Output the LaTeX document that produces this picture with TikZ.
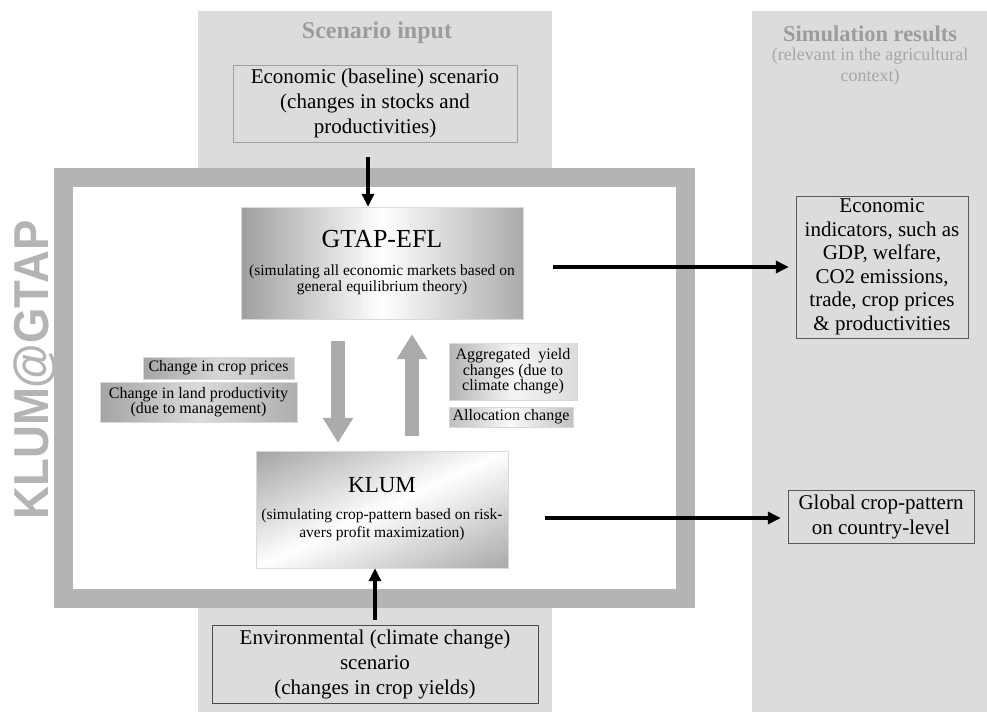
\documentclass[tikz,border=0pt]{standalone}
\usepackage{fontspec}
\setmainfont{Liberation Serif}
\newfontfamily\brandfont[FakeStretch=0.93]{Liberation Sans}
\usetikzlibrary{arrows.meta,calc}
\definecolor{colgray}{HTML}{DCDCDC}
\definecolor{framegray}{HTML}{B4B4B4}
\definecolor{titlegray}{HTML}{9C9C9C}
\definecolor{arrowgray}{HTML}{ABABAB}
\newcommand{\fsz}[2]{\fontsize{#1}{#2}\selectfont}
\pgfdeclarelayer{bg}
\pgfdeclarelayer{grad}
\pgfsetlayers{bg,grad,main}
% #1 node, #2 #3 #4 darkness left/middle/right, #5 #6 weight along x/y, #7 rows
\newcommand{\shadebox}[7]{%
  \begin{pgfonlayer}{grad}
  \foreach \i in {0,...,59}{
    \foreach \j in {1,...,#7}{
      \pgfmathsetmacro\t{#5*(\i+0.5)/60+#6*(\j-0.5)/#7}
      \pgfmathsetmacro\g{\t<0.5 ? #2+(#3-#2)*2*\t : #3+(#4-#3)*(2*\t-1)}
      \fill[black!\g] let \p1=(#1.north west), \p2=(#1.south east) in
        ({\x1+(\x2-\x1)/60*\i}, {\y1+(\y2-\y1)/#7*(\j-1)}) rectangle
        ({\x1+(\x2-\x1)/60*(\i+1)+0.4pt}, {\y1+(\y2-\y1)/#7*\j-0.4pt});
    }}
  \end{pgfonlayer}}

\begin{document}
\begin{tikzpicture}[x=1pt, y=-1pt,
    title/.style={text=titlegray, font=\bfseries\fsz{22.5}{26}},
    subtitle/.style={text=titlegray!90, align=center, font=\fsz{18}{21}},
    inbox/.style={draw=gray!75, align=center, inner sep=0pt, font=\fsz{21}{25}},
    outbox/.style={draw=black!65, align=center, inner sep=0pt, font=\fsz{21}{23.5}},
    modelbox/.style={draw=gray!30, align=center, inner sep=0pt, font=\fsz{15.5}{16.5}},
    lblbox/.style={draw=gray!30, align=center, inner sep=0pt, font=\fsz{16}{15.5}},
    blackarrow/.style={-{Triangle[length=13pt,width=12pt]}, line width=3.5pt},
    fatarrow/.style={draw=arrowgray, line width=14pt, -{Triangle[length=25pt,width=29pt]}}]
  \useasboundingbox (0,0) rectangle (987,712);
  \begin{pgfonlayer}{bg}
    \fill[white] (0,0) rectangle (987,712);
    \fill[colgray] (198,11) rectangle (552,712);
    \fill[colgray] (752,11) rectangle (987,712);
    \draw[framegray, line width=19pt, fill=white] (63.5,177.5) rectangle (685.5,598.5);
  \end{pgfonlayer}

  \node[rotate=90, text=framegray, font=\brandfont\bfseries\fsz{49}{49}] (brand) at (35,370) {KLUM@GTAP};

  \node[title, font=\bfseries\fsz{24}{26}] (scentitle) at (377,33) {Scenario input};
  \node[title] (simtitle) at (870,34) {Simulation results};
  \node[subtitle] (simsub) at (870,67) {(relevant in the agricultural\\context)};

  \node[inbox, minimum width=284, minimum height=77] (econ) at (375,103.5) {Economic (baseline) scenario\\(changes in stocks and\\productivities)};
  \node[inbox, draw=black!70, minimum width=326, minimum height=78] (env) at (375,664) {Environmental (climate change)\\scenario\\(changes in crop yields)};

  \node[modelbox, minimum width=282, minimum height=112] (gtap) at (382,263) {{\fsz{26}{30}GTAP-EFL}\\[11pt](simulating all economic markets based on\\general equilibrium theory)};
  \node[modelbox, minimum width=252, minimum height=117] (klum) at (382,509.5) {{\fsz{23}{27}KLUM}\\[10pt](simulating crop-pattern based on risk-\\[2pt]avers profit maximization)};

  \node[lblbox, minimum width=151, minimum height=22] (price) at (218.5,368) {Change in crop prices};
  \node[lblbox, minimum width=197, minimum height=40] (land) at (198.5,402) {Change in land productivity\\(due to management)};
  \node[lblbox, minimum width=128, minimum height=57] (yield) at (513,371.5) {Aggregated~~yield\\changes (due to\\climate change)};
  \node[lblbox, minimum width=124, minimum height=20] (alloc) at (511,417) {Allocation change};

  \shadebox{gtap}{38}{0}{33}{1}{0}{1}
  \shadebox{klum}{36}{0}{34}{0.5}{0.5}{40}
  \shadebox{price}{36}{16}{26}{1}{0}{1}
  \shadebox{land}{36}{14}{32}{1}{0}{1}
  \shadebox{yield}{30}{4}{14}{1}{0}{1}
  \shadebox{alloc}{26}{2}{24}{1}{0}{1}

  \node[outbox, minimum width=172, minimum height=142] (indic) at (882,267) {Economic\\indicators, such as\\GDP, welfare,\\CO2 emissions,\\trade, crop prices\\\& productivities};
  \node[outbox, font=\fsz{21}{25}, minimum width=186, minimum height=53] (pattern) at (881,516.5) {Global crop-pattern\\on country-level};

  \draw[blackarrow] ([xshift=-7pt,yshift=-15pt]econ.south) -- ([xshift=-7pt]econ.south |- gtap.north);
  \draw[blackarrow] ([yshift=5pt]env.north) -- (env.north |- klum.south);
  \draw[blackarrow] ([xshift=30pt,yshift=-4pt]gtap.east) -- ([xshift=-7pt,yshift=-4pt]gtap.east -| indic.west) coordinate (simin1);
  \draw[blackarrow] ([xshift=37pt,yshift=-8.5pt]klum.east) -- ([xshift=-7pt,yshift=-8.5pt]klum.east -| pattern.west) coordinate (simin2);
  \draw[fatarrow] ([xshift=-44pt,yshift=-22pt]gtap.south) -- ([xshift=-44pt,yshift=8pt]klum.north);
  \draw[fatarrow] ([xshift=30pt,yshift=15pt]klum.north) -- ([xshift=30pt,yshift=-15pt]gtap.south);
\end{tikzpicture}
\end{document}
